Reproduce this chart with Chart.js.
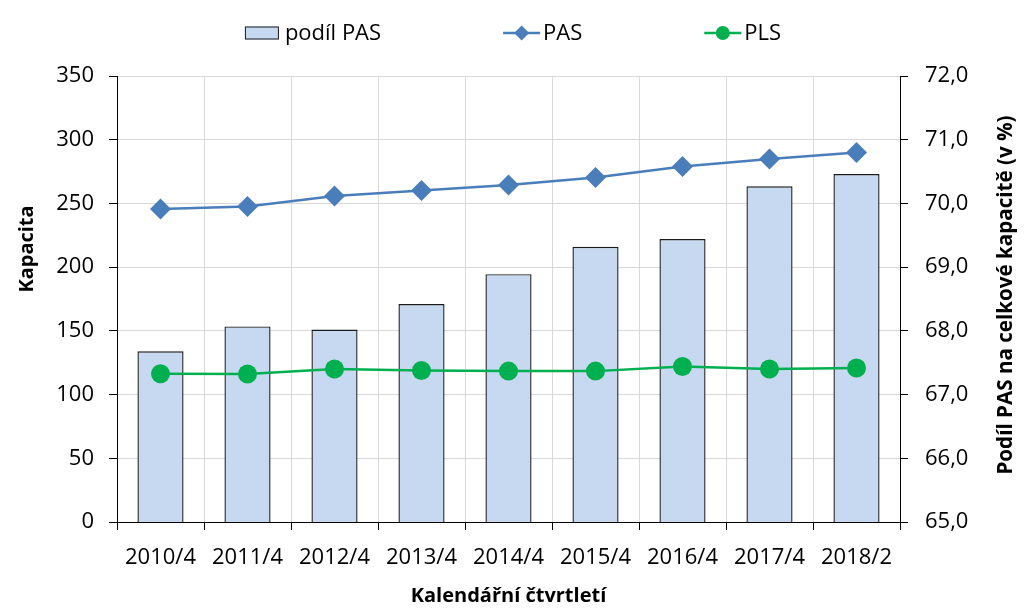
<!DOCTYPE html>
<html>
<head>
<meta charset="utf-8">
<title>Kapacita PAS a PLS</title>
<script src="https://cdn.jsdelivr.net/npm/chart.js@4.4.1/dist/chart.umd.min.js"></script>
<style>
    html, body { margin: 0; padding: 0; background: #fff; }
    canvas { display: block; }
</style>
</head>
<body>
<canvas id="capacityChart" width="1024" height="615"></canvas>
<script>
// data
const categories = ['2010/4', '2011/4', '2012/4', '2013/4', '2014/4', '2015/4', '2016/4', '2017/4', '2018/2'];
const podilPas = [67.68, 68.07, 68.02, 68.42, 68.89, 69.32, 69.44, 70.27, 70.46];
const pasValues = [245.7, 247.5, 255.9, 260.1, 264.5, 270.3, 278.9, 284.9, 289.9];
const plsValues = [116.3, 116.1, 120.0, 118.9, 118.4, 118.4, 122.0, 120.0, 120.8];

const leftTitle = 'Kapacita';
const rightTitle = 'Podíl PAS na celkové kapacitě (v %)';
const bottomTitle = 'Kalendářní čtvrtletí';

const FONT = '"Open Sans", "Noto Sans", sans-serif';
const BAR_FILL = '#c6d9f0';
const BAR_EDGE = '#1a1a1a';
const BLUE = '#4a7ebb';
const GREEN = '#00b050';

function drawLegendIcon(ctx, ds, x, y, w) {
    if (ds.type === 'bar') {
        ctx.fillStyle = BAR_FILL;
        ctx.fillRect(x, y - 6.5, w - 3, 13);
        ctx.strokeStyle = BAR_EDGE;
        ctx.lineWidth = 1;
        ctx.strokeRect(x + 0.5, y - 6, w - 4, 12);
        return;
    }
    ctx.strokeStyle = ds.borderColor;
    ctx.lineWidth = 2.5;
    ctx.beginPath();
    ctx.moveTo(x, y);
    ctx.lineTo(x + w, y);
    ctx.stroke();
    ctx.fillStyle = ds.borderColor;
    ctx.beginPath();
    const cx = x + w / 2;
    if (ds.pointStyle === 'rectRot') {
        ctx.moveTo(cx - 7.5, y);
        ctx.lineTo(cx, y - 7.5);
        ctx.lineTo(cx + 7.5, y);
        ctx.lineTo(cx, y + 7.5);
        ctx.closePath();
    } else {
        ctx.arc(cx, y, 7, 0, Math.PI * 2);
    }
    ctx.fill();
}

// legend and vertical axis titles drawn the way the spreadsheet does it
const excelDecor = {
    id: 'excelDecor',
    afterDraw(chart) {
        const ctx = chart.ctx;
        ctx.save();
        ctx.font = '22px ' + FONT;
        ctx.textBaseline = 'middle';
        ctx.textAlign = 'left';
        const iconW = 37, textGap = 3, itemGap = 122;
        const items = chart.data.datasets.map(ds => ({
            ds: ds,
            w: iconW + textGap + ctx.measureText(ds.label).width
        }));
        const total = items.reduce((s, it) => s + it.w, 0) + itemGap * (items.length - 1);
        let x = 513 - total / 2;
        const y = 33;
        items.forEach(it => {
            drawLegendIcon(ctx, it.ds, x, y, iconW);
            ctx.fillStyle = '#000';
            ctx.fillText(it.ds.label, x + iconW + textGap, y + 1);
            x += it.w + itemGap;
        });

        ctx.fillStyle = '#000';
        ctx.textAlign = 'center';
        ctx.textBaseline = 'alphabetic';

        ctx.save();
        ctx.font = 'bold 20px ' + FONT;
        ctx.translate(33, 249);
        ctx.rotate(-Math.PI / 2);
        ctx.fillText(leftTitle, 0, 0);
        ctx.restore();

        ctx.save();
        ctx.font = 'bold 20.6px ' + FONT;
        ctx.translate(1012, 295);
        ctx.rotate(-Math.PI / 2);
        ctx.fillText(rightTitle, 0, 0);
        ctx.restore();

        ctx.restore();
    }
};

new Chart(document.getElementById('capacityChart'), {
    data: {
        labels: categories,
        datasets: [
            {
                type: 'bar',
                label: 'podíl PAS',
                data: podilPas,
                yAxisID: 'yShare',
                backgroundColor: BAR_FILL,
                borderColor: BAR_EDGE,
                borderWidth: 1.4,
                barPercentage: 0.53,
                categoryPercentage: 1,
                order: 3
            },
            {
                type: 'line',
                label: 'PAS',
                data: pasValues,
                yAxisID: 'y',
                borderColor: BLUE,
                backgroundColor: BLUE,
                borderWidth: 2.5,
                pointStyle: 'rectRot',
                pointRadius: 10.5,
                pointBorderWidth: 0,
                tension: 0,
                order: 1
            },
            {
                type: 'line',
                label: 'PLS',
                data: plsValues,
                yAxisID: 'y',
                borderColor: GREEN,
                backgroundColor: GREEN,
                borderWidth: 2.5,
                pointStyle: 'circle',
                pointRadius: 9.5,
                pointBorderWidth: 0,
                tension: 0,
                order: 2
            }
        ]
    },
    options: {
        responsive: false,
        animation: false,
        layout: { padding: { top: 76, left: 0, right: 0, bottom: 0 } },
        plugins: {
            legend: { display: false },
            tooltip: { enabled: false }
        },
        scales: {
            x: {
                offset: true,
                grid: { offset: true, color: '#d9d9d9', tickColor: '#000', tickLength: 8 },
                border: { color: '#000', width: 1 },
                ticks: { color: '#000', font: { family: FONT, size: 22 }, padding: 15 },
                title: {
                    display: true,
                    text: bottomTitle,
                    color: '#000',
                    font: { family: FONT, size: 20, weight: 'bold' },
                    padding: { top: 0, bottom: 7 }
                },
                afterFit: s => { s.height = 93; }
            },
            y: {
                position: 'left',
                min: 0,
                max: 350,
                ticks: { stepSize: 50, color: '#000', font: { family: FONT, size: 22 }, padding: 15 },
                grid: { color: '#d9d9d9', tickColor: '#000', tickLength: 8 },
                border: { color: '#000', width: 1 },
                afterFit: s => { s.width = 117; }
            },
            yShare: {
                position: 'right',
                min: 65,
                max: 72,
                ticks: {
                    stepSize: 1,
                    color: '#000',
                    font: { family: FONT, size: 22 },
                    padding: 17,
                    callback: v => v.toFixed(1).replace('.', ',')
                },
                grid: { drawOnChartArea: false, tickColor: '#000', tickLength: 8 },
                border: { color: '#000', width: 1 },
                afterFit: s => { s.width = 124; }
            }
        }
    },
    plugins: [excelDecor]
});
</script>
</body>
</html>
